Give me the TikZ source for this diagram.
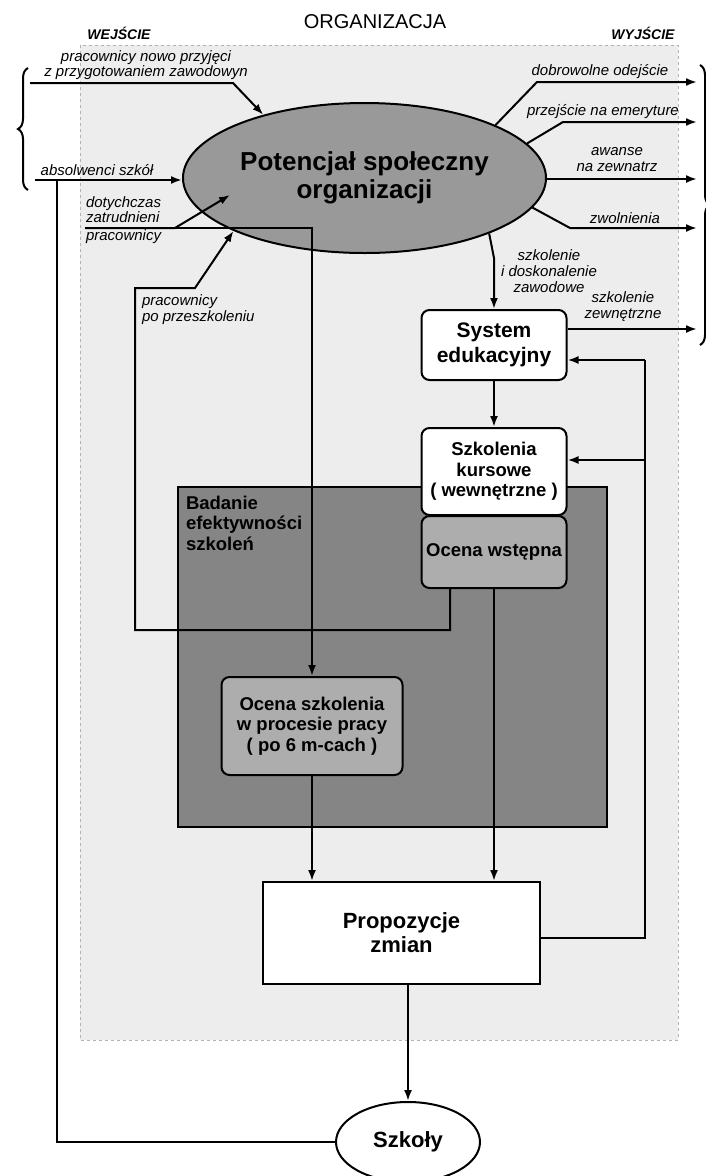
\documentclass[tikz,border=0pt]{standalone}
\usepackage{fontspec}
\setmainfont{Liberation Sans}
\usetikzlibrary{shapes.geometric,arrows.meta,decorations.pathreplacing}
\definecolor{orgfill}{gray}{0.93}
\definecolor{potfill}{gray}{0.6}
\definecolor{badfill}{gray}{0.52}
\definecolor{ocenafill}{gray}{0.68}

\begin{document}
\begin{tikzpicture}[x=1pt,y=-1pt,line width=2pt,
  arr/.style={-{Latex[length=11pt,width=8pt]}},
  lbl/.style={font=\fontsize{15}{16}\selectfont\itshape,align=center,inner sep=1pt},
  head/.style={font=\fontsize{14}{16}\selectfont\bfseries\itshape},
  box/.style={draw,rounded corners=8pt,fill=white,align=center,
    font=\fontsize{18.5}{20.5}\selectfont\bfseries,minimum width=145pt},
  bigtxt/.style={font=\fontsize{21}{25}\selectfont\bfseries,align=center}]
\useasboundingbox (0,0) rectangle (706,1176);
\fill[white] (0,0) rectangle (706,1176);

% organizacja
\draw[gray!60,fill=orgfill,line width=0.8pt,dashed] (80,45) rectangle (678,1040);
\node (org) [font=\fontsize{20}{24}\selectfont] at (375,22) {ORGANIZACJA};
\node (wej) [head] at (119,33) {WEJŚCIE};
\node (wyj) [head] at (643,33) {WYJŚCIE};

% badanie efektywnosci
\node (bad) [draw,fill=badfill,minimum width=429pt,minimum height=340pt] at (392.5,657) {};
\node (badlbl) [anchor=north west,align=left,inner sep=0pt,
  font=\fontsize{18.5}{20.5}\selectfont\bfseries] at (185,495) {Badanie\\efektywności\\szkoleń};

% nodes
\node (pot) [ellipse,draw,fill=potfill,minimum width=363pt,minimum height=150pt,
  inner sep=0pt,font=\fontsize{26}{28}\selectfont\bfseries,align=center]
  at (364.5,178) {Potencjał społeczny\\organizacji};
\node (sys) [box,bigtxt,minimum height=70pt] at (494,345) {System\\edukacyjny};
\node (kurs) [box,minimum height=87pt] at (494,471.5) {Szkolenia\\kursowe\\( wewnętrzne )};
\node (wst) [box,fill=ocenafill,minimum height=72pt] at (494,552) {Ocena wstępna};
\node (osz) [box,fill=ocenafill,minimum width=181pt,minimum height=98pt]
  at (312,726) {Ocena szkolenia\\w procesie pracy\\( po 6 m-cach )};
\node (prop) [draw,fill=white,align=center,font=\fontsize{22}{24}\selectfont\bfseries,
  minimum width=277pt,minimum height=102pt] at (401.5,933) {Propozycje\\zmian};
\node (szk) [ellipse,draw,fill=white,minimum width=144pt,minimum height=80pt,
  font=\fontsize{22}{25}\selectfont\bfseries] at (408,1142) {Szkoły};

% wejscie
\coordinate (inA) at (30,83);
\coordinate (inB) at (35,180);
\coordinate (inC) at (85,228);
\coordinate (inD) at (175,228);
\coordinate (inE) at (230,195);
\draw[arr] (inA) -- (233,83) -- (pot.148);
\draw[arr] (inB) -- (pot.west |- inB);
\draw[arr] (inC) -- (inD) -- (inE);
\draw[decorate,decoration={brace,amplitude=10pt}] (28,190) -- (28,68);
\node (nowo) [lbl,font=\fontsize{15}{15}\selectfont\itshape] at (146,65)
  {pracownicy nowo przyjęci\\z przygotowaniem zawodowyn};
\node (abs) [lbl] at (97,170) {absolwenci szkół};
\node (dot) [lbl,align=left,anchor=west,font=\fontsize{15}{15}\selectfont\itshape]
  at (84,220) {dotychczas\\zatrudnieni\\[3pt]pracownicy};
\node (prz) [lbl,align=left,anchor=west] at (140,310) {pracownicy\\po przeszkoleniu};

% wyjscie
\coordinate (outA) at (697,82);
\coordinate (outB) at (697,122);
\coordinate (outC) at (697,179);
\coordinate (outD) at (697,228);
\coordinate (outE) at (697,329);
\draw[arr] (pot.22) -- (537,82) -- (outA);
\draw[arr] (pot.12) -- (563,122) -- (outB);
\draw[arr] (pot.east |- outC) -- (outC);
\draw[arr] (pot.-10) -- (570,228) -- (outD);
\draw[arr] (sys.east |- outE) -- (outE);
\draw[decorate,decoration={brace,amplitude=10pt}] (700,65) -- (700,345);
\node (dobr) [lbl] at (600,72) {dobrowolne odejście};
\node (emer) [lbl] at (603,112) {przejście na emeryture};
\node (awa) [lbl] at (617,160) {awanse\\na zewnatrz};
\node (zwol) [lbl] at (625,218) {zwolnienia};
\node (zewn) [lbl] at (623,307) {szkolenie\\zewnętrzne};
\node (dosk) [lbl] at (549,271) {szkolenie\\i doskonalenie\\zawodowe};

% przeplyw
\draw[arr] (pot.-24) -- (494,258) -- (sys.north);
\draw[arr] (sys.south) -- (kurs.north);
\draw[arr] (inD) -- (osz.north |- inD) -- (osz.north);
\draw[arr] ([xshift=-44pt]wst.south) |- (135,630) -- (135,288) -- (195,288) -- (pot.202);
\draw[arr] (wst.south) -- (wst.south |- prop.north);
\draw[arr] (osz.south) -- (osz.south |- prop.north);
\coordinate (loop) at (645,938);
\draw (prop.east |- loop) -- (loop) -- (645,360) coordinate (loopS);
\draw[arr] (loopS) -- (sys.east |- loopS);
\draw[arr] (645,460) -- (kurs.east |- 645,460);
\draw[arr] (szk.north |- prop.south) -- (szk.north);
\draw (szk.west) -- (57,1142) -- (57,180);
\end{tikzpicture}
\end{document}
